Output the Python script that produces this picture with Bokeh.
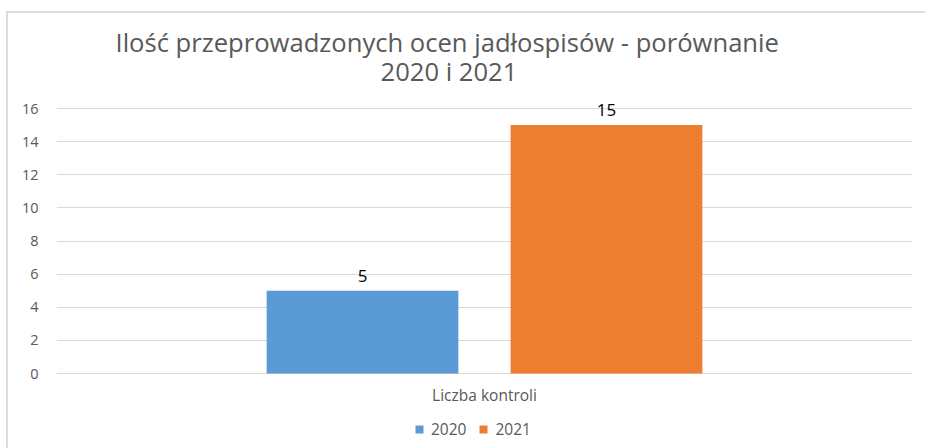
from bokeh.plotting import figure
from bokeh.models import (ColumnDataSource, FactorRange, Range1d, LabelSet, Title,
                          Legend, LegendItem, FixedTicker)
from bokeh.transform import dodge
from bokeh.embed import file_html
from bokeh.resources import INLINE
from bokeh.core.properties import value

# ---- data ----
category = ["Liczba kontroli"]
years = ["2020", "2021"]
counts = [5, 15]
colors = ["#5B9BD5", "#ED7D31"]
offsets = [-0.1425, 0.1425]
y_ticks = [0, 2, 4, 6, 8, 10, 12, 14, 16]
y_min, y_max = -4.528, 16.785
title_line1 = "Ilość przeprowadzonych ocen jadłospisów - porównanie"
title_line2 = "2020 i 2021"

FONT = "Open Sans"
GREY = "#595959"
LINE = "#d9d9d9"

bg = ("linear-gradient(#dcdcdc,#dcdcdc) 6px 11px / 100% 2px no-repeat, "
      "linear-gradient(#dcdcdc,#dcdcdc) 6px 11px / 2px 100% no-repeat, #ffffff")

p = figure(frame_width=856, frame_height=353,
           x_range=FactorRange(factors=category, range_padding=0),
           y_range=Range1d(y_min, y_max),
           x_axis_location=None,
           output_backend="svg", toolbar_location=None,
           min_border_left=56, min_border_right=13,
           min_border_top=95, min_border_bottom=0,
           outline_line_color=None, border_fill_alpha=0,
           background_fill_alpha=0,
           styles={"background": bg})

items = []
for i in range(len(years)):
    src = ColumnDataSource(dict(x=category, y=[counts[i]], label=[str(counts[i])]))
    xs = dodge("x", offsets[i], range=p.x_range)
    r = p.vbar(x=xs, top="y", bottom=0, width=0.224, source=src,
               fill_color=colors[i], line_color=None)
    items.append(LegendItem(label=years[i], renderers=[r]))
    p.add_layout(LabelSet(x=xs, y="y", text="label", source=src,
                          text_align="center", text_baseline="bottom", y_offset=9,
                          text_font=value(FONT), text_font_size="17px",
                          text_color="#000000"))

# category name under the baseline
cat_src = ColumnDataSource(dict(x=category, y=[0], label=category))
p.add_layout(LabelSet(x="x", y="y", text="label", source=cat_src,
                      text_align="center", text_baseline="middle", y_offset=-21,
                      text_font=value(FONT), text_font_size="15.5px",
                      text_color=GREY))

legend = Legend(items=items, orientation="horizontal", location=(358, 8),
                label_text_font=FONT, label_text_font_size="15.5px",
                label_text_color=GREY, glyph_width=10, glyph_height=10,
                label_standoff=7, spacing=12, padding=0, margin=0,
                border_line_alpha=0, background_fill_alpha=0)
p.add_layout(legend, "center")

# titles (added nearest-first)
p.add_layout(Title(text=title_line2, align="left", text_font=FONT,
                   text_font_size="25.6px", text_font_style="normal",
                   text_color=GREY, standoff=14, offset=324), "above")
p.add_layout(Title(text=title_line1, align="left", text_font=FONT,
                   text_font_size="25.6px", text_font_style="normal",
                   text_color=GREY, standoff=-31, offset=59), "above")

# y axis
p.yaxis.ticker = FixedTicker(ticks=y_ticks)
p.yaxis.axis_line_color = None
p.yaxis.major_tick_line_color = None
p.yaxis.minor_tick_line_color = None
p.yaxis.major_label_standoff = 12
p.yaxis.major_label_text_font = FONT
p.yaxis.major_label_text_font_size = "14.5px"
p.yaxis.major_label_text_color = GREY

p.xgrid.visible = False
p.ygrid.grid_line_color = LINE
p.ygrid.ticker = FixedTicker(ticks=y_ticks)

open("out.html", "w").write(file_html(p, INLINE))
